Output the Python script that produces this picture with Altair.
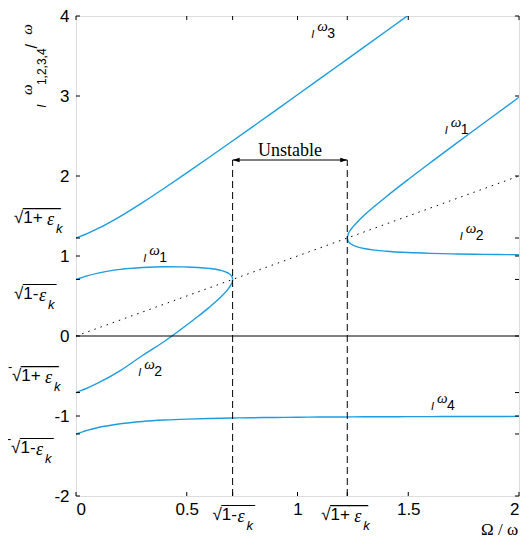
import altair as alt
import pandas as pd

# ---------------- data ----------------
om_34 = [0, 0.05, 0.1, 0.2, 0.3, 0.4, 0.5, 0.6, 0.7, 0.8, 0.9, 1.0, 1.1, 1.2, 1.3, 1.4, 1.5,
         1.6, 1.7, 1.8, 1.9, 2.0]
w3 = [1.2247, 1.2798, 1.3444, 1.4963, 1.6679, 1.8503, 2.0388, 2.2310, 2.4253, 2.6211, 2.8179,
      3.0153, 3.2133, 3.4117, 3.6103, 3.8092, 4.0083]
w4 = [-1.2247, -1.1798, -1.1444, -1.0963, -1.0679, -1.0503, -1.0388, -1.0310, -1.0253, -1.0211,
      -1.0179, -1.0153, -1.0133, -1.0117, -1.0103, -1.0092, -1.0083, -1.0075, -1.0068, -1.0062,
      -1.0056, -1.0052]

om_left = [0, 0.05, 0.1, 0.2, 0.3, 0.4, 0.5, 0.55, 0.6, 0.65, 0.68, 0.69, 0.70, 0.705, 0.7071]
w1_left = [0.7071, 0.7519, 0.7867, 0.8322, 0.8559, 0.8654, 0.8633, 0.8569, 0.8449, 0.8223,
           0.7958, 0.7812, 0.7583, 0.7366, 0.7071]
w2_left = [-0.7071, -0.6519, -0.5867, -0.4322, -0.2441, -0.0654, 0.1367, 0.2431, 0.3551, 0.4777,
           0.5642, 0.5988, 0.6417, 0.6734, 0.7071]

om_right = [1.2247, 1.23, 1.24, 1.25, 1.27, 1.3, 1.35, 1.4, 1.5, 1.6, 1.7, 1.8, 1.9, 2.0]
w1_right = [1.2247, 1.2810, 1.3277, 1.3640, 1.4254, 1.5059, 1.6268, 1.7401, 1.9567, 2.1667,
            2.3734, 2.5781, 2.7816, 2.9843]
w2_right = [1.2247, 1.1790, 1.1523, 1.1360, 1.1146, 1.0941, 1.0732, 1.0599, 1.0433, 1.0333,
            1.0266, 1.0219, 1.0184, 1.0157]

diag_x = [0, 2]
diag_y = [0, 2]

s_lo = 0.7071   # sqrt(1 - eps_k)
s_hi = 1.2247   # sqrt(1 + eps_k)
arrow_y = 2.2

x_tick_vals = [0, 0.5, s_lo, 1, s_hi, 1.5, 2]
y_tick_vals = [-2, -s_hi, -1, -s_lo, 0, s_lo, 1, s_hi, 2, 3, 4]

# curve labels  (I omega_n)
lab_x = [1.0625, 1.665, 1.732, 0.304, 0.281, 1.603]
lab_y = [3.728, 2.531, 1.198, 0.926, -0.494, -0.926]
lab_n = ["3", "1", "2", "1", "2", "4"]

# radical labels on the axes
sq_x = [-0.280, -0.280, -0.289, -0.293, 0.616, 1.107]
sq_y = [1.407, 0.457, -0.568, -1.457, -2.296, -2.296]
sq_inner = ["1+ ", "1-", "1+ ", "1-", "1-", "1+ "]
sq_lead = ["", "", "-", "-", "", ""]

# y-axis title pieces
yt_x = [-0.136, -0.198, -0.136, -0.176, -0.198]
yt_y = [2.852, 3.012, 3.136, 3.593, 3.765]
yt_t = ["I", "ω", "1,2,3,4", "/", "ω"]

BLUE = "#1b9de2"
SANS = "Liberation Sans"
SERIF = "Liberation Serif"

W, H = 443, 480

xs = alt.Scale(domain=[0, 2], nice=False, zero=False)
ys = alt.Scale(domain=[-2, 4], nice=False, zero=False)


def X(f="x"):
    return alt.X(f + ":Q", scale=xs, title=None)


def Y(f="y"):
    return alt.Y(f + ":Q", scale=ys, title=None)


# ---------------- curves ----------------
rows = []
for name, om, w in [("w3", om_34, w3), ("w4", om_34, w4), ("w1l", om_left, w1_left),
                    ("w2l", om_left, w2_left), ("w1r", om_right, w1_right),
                    ("w2r", om_right, w2_right)]:
    for i, (a, b) in enumerate(zip(om, w)):
        rows.append({"x": a, "y": b, "s": name, "o": i})
curves_df = pd.DataFrame(rows)

curves = alt.Chart(curves_df).mark_line(color=BLUE, strokeWidth=1.4, interpolate="monotone",
                                        clip=True).encode(
    x=alt.X("x:Q", scale=xs, title=None,
            axis=alt.Axis(tickCount=4, labelExpr="'' + datum.value", labelFont=SANS,
                          labelFontSize=17, labelColor="black", labelPadding=5, domain=False,
                          ticks=False, tickSize=0, grid=False)),
    y=alt.Y("y:Q", scale=ys, title=None,
            axis=alt.Axis(tickCount=6, labelExpr="'' + datum.value", labelFont=SANS,
                          labelFontSize=17, labelColor="black", labelPadding=7, domain=False,
                          ticks=False, tickSize=0, grid=False)),
    detail="s:N", order="o:Q")

diag = alt.Chart(pd.DataFrame({"x": diag_x, "y": diag_y})).mark_line(
    color="black", strokeWidth=1, strokeDash=[1.5, 5]).encode(x=X(), y=Y())

zero = alt.Chart(pd.DataFrame({"y": [0]})).mark_rule(color="black", strokeWidth=1).encode(y=Y())

vlines = alt.Chart(pd.DataFrame({"x": [s_lo, s_hi], "y": [-2, -2], "y2": [arrow_y, arrow_y]})).mark_rule(
    color="black", strokeWidth=1, strokeDash=[7, 4]).encode(
    x=X(), y=Y(), y2=alt.Y2("y2:Q", title=None))

arrow = alt.Chart(pd.DataFrame({"x": [s_lo], "x2": [s_hi], "y": [arrow_y]})).mark_rule(
    color="black", strokeWidth=1).encode(x=X(), x2=alt.X2("x2:Q", title=None), y=Y())

head_l = alt.Chart(pd.DataFrame({"x": [s_lo], "y": [arrow_y]})).mark_point(
    shape="M0,0L2,-0.65L2,0.65Z", size=49, filled=True, color="black", opacity=1,
    strokeWidth=0).encode(x=X(), y=Y())
head_r = alt.Chart(pd.DataFrame({"x": [s_hi], "y": [arrow_y]})).mark_point(
    shape="M0,0L-2,-0.65L-2,0.65Z", size=49, filled=True, color="black", opacity=1,
    strokeWidth=0).encode(x=X(), y=Y())

unstable = alt.Chart(pd.DataFrame({"x": [(s_lo + s_hi) / 2], "y": [2.247], "t": ["Unstable"]})).mark_text(
    font=SERIF, fontSize=18, align="center", baseline="alphabetic", color="black").encode(
    x=X(), y=Y(), text="t:N")

# ticks (inward, MATLAB style)
tl_y = 4 * 6 / H
tl_x = 4 * 2 / W
tick_rows = []
for v in x_tick_vals:
    tick_rows.append({"x": v, "x2": v, "y": -2, "y2": -2 + tl_y})
    tick_rows.append({"x": v, "x2": v, "y": 4, "y2": 4 - tl_y})
for v in y_tick_vals:
    tick_rows.append({"x": 0, "x2": tl_x, "y": v, "y2": v})
    tick_rows.append({"x": 2, "x2": 2 - tl_x, "y": v, "y2": v})
ticks = alt.Chart(pd.DataFrame(tick_rows)).mark_rule(color="black", strokeWidth=1).encode(
    x=X(), x2=alt.X2("x2:Q", title=None), y=Y(), y2=alt.Y2("y2:Q", title=None))

# curve labels
lab_df = pd.DataFrame({"x": lab_x, "y": lab_y, "t": lab_n})
lab_I = alt.Chart(lab_df).mark_text(text="I", font=SANS, fontStyle="italic", fontSize=11,
                                    align="left", baseline="alphabetic", color="black").encode(x=X(), y=Y())
lab_w = alt.Chart(lab_df).mark_text(text="ω", font=SERIF, fontStyle="italic", fontSize=15,
                                    align="left", baseline="alphabetic", dx=6, dy=-7,
                                    color="black").encode(x=X(), y=Y())
lab_d = alt.Chart(lab_df).mark_text(font=SANS, fontSize=14, align="left", baseline="alphabetic",
                                    dx=16, color="black").encode(x=X(), y=Y(), text="t:N")

# radical labels
sq_df = pd.DataFrame({"x": sq_x, "y": sq_y, "t": ["√" + s for s in sq_inner],
                      "lead": sq_lead, "kind": ["p" if "+" in s else "m" for s in sq_inner]})
sq_layers = []
sq_layers.append(alt.Chart(sq_df).mark_text(font=SANS, fontSize=17, align="left", baseline="alphabetic",
                                            color="black").encode(x=X(), y=Y(), text="t:N"))
for kind, dx_e, dx_k, ol_size in [("p", 33, 42, 17), ("m", 25, 34, 15)]:
    sub = sq_df[sq_df["kind"] == kind]
    sq_layers.append(alt.Chart(sub).mark_text(text="ε", font=SERIF, fontStyle="italic", fontSize=18,
                                              align="left", baseline="alphabetic", dx=dx_e, dy=2,
                                              color="black").encode(x=X(), y=Y()))
    sq_layers.append(alt.Chart(sub).mark_text(text="k", font=SANS, fontStyle="italic", fontSize=13,
                                              align="left", baseline="alphabetic", dx=dx_k, dy=10,
                                              color="black").encode(x=X(), y=Y()))
    sq_layers.append(alt.Chart(sub).mark_text(text="____", font=SANS, fontSize=ol_size,
                                              align="left", baseline="alphabetic", dx=9, dy=-17,
                                              color="black").encode(x=X(), y=Y()))
lead_df = sq_df[sq_df["lead"] == "-"]
sq_layers.append(alt.Chart(lead_df).mark_text(text="-", font=SANS, fontSize=13, align="left",
                                              baseline="alphabetic", dx=-4, dy=-10,
                                              color="black").encode(x=X(), y=Y()))

# y-axis title pieces (rotated)
yt_df = pd.DataFrame({"x": yt_x, "y": yt_y, "t": yt_t})
yt_styles = [
    (yt_df.iloc[[0]], SANS, "italic", 12),
    (yt_df.iloc[[1, 4]], SERIF, "italic", 15),
    (yt_df.iloc[[2]], SANS, "normal", 12),
    (yt_df.iloc[[3]], SANS, "normal", 16),
]
yt_layers = [alt.Chart(d).mark_text(font=f, fontStyle=st, fontSize=fs, angle=270, align="left",
                                    baseline="alphabetic", color="black").encode(x=X(), y=Y(), text="t:N")
             for d, f, st, fs in yt_styles]

xtitle = alt.Chart(pd.DataFrame({"x": [1.996], "y": [-2.4875], "t": ["Ω / ω"]})).mark_text(
    font=SERIF, fontSize=17, align="right", baseline="alphabetic", color="black").encode(
    x=X(), y=Y(), text="t:N")

chart = alt.layer(curves, diag, zero, vlines, arrow, head_l, head_r, unstable, ticks,
                  lab_I, lab_w, lab_d, *sq_layers, *yt_layers, xtitle).properties(
    width=W, height=H,
    autosize=alt.AutoSizeParams(type="none"),
    padding={"left": 68, "top": 8, "right": 1, "bottom": 44},
).configure_view(stroke="black", strokeWidth=1).configure(background="white")

chart.save("out.html", embed_options={"renderer": "svg", "actions": False})
